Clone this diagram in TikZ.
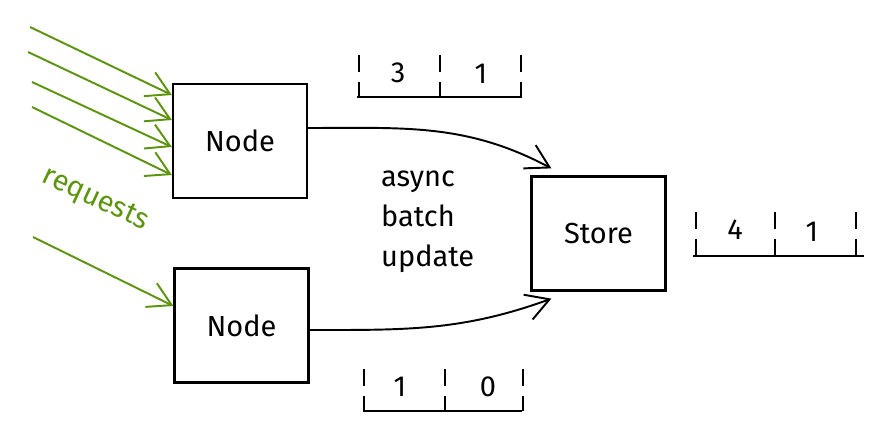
\documentclass[tikz,border=0pt]{standalone}
\usepackage{fontspec}
\setmainfont{Fira Sans}
\usetikzlibrary{arrows.meta}

\definecolor{reqgreen}{HTML}{5C940D}

\tikzset{
  box/.style={shape=rectangle,draw=black,line width=1.3pt,minimum width=2.68cm,minimum height=2.28cm},
  req/.style={draw=reqgreen,line width=1.1pt,-{Straight Barb[length=13pt,width=15pt]}},
  flow/.style={draw=black,line width=1.1pt,-{Straight Barb[length=13pt,width=15pt]}},
  tickmark/.style={draw=black,line width=1.2pt,dash pattern=on 0.34cm off 0.2cm on 1cm},
  rule/.style={draw=black,line width=1.4pt},
  count/.style={font=\fontsize{16.5}{19}\selectfont}
}

\begin{document}
\begin{tikzpicture}[x=0.02cm,y=-0.02cm,font=\fontsize{16.5}{19}\selectfont]
    \useasboundingbox (0,0) rectangle (884,438);

    \node[box] (top)    at (240,141)     {Node};
    \node[box] (bottom) at (241.5,325.5) {Node};
    \node[box] (store)  at (598.5,233.5) {Store};

    \node[align=left,anchor=west,font=\fontsize{16.5}{22.7}\selectfont] (label) at (375,222) {async\\batch\\update};
    \node[text=reqgreen,rotate=-25] (requests) at (95,200) {requests};

    % incoming requests
    \coordinate (r1) at (30,27);
    \coordinate (r2) at (28,52);
    \coordinate (r3) at (32,82);
    \coordinate (r4) at (32,107);
    \coordinate (r5) at (33,237);
    \draw[req] (r1) -- (top.west |- 0,95);
    \draw[req] (r2) -- (top.west |- 0,120);
    \draw[req] (r3) -- (top.west |- 0,147);
    \draw[req] (r4) -- (top.west |- 0,175);
    \draw[req] (r5) -- (bottom.west |- 0,306);

    % batch updates
    \draw[flow] (top.east |- 0,128) to[out=0,in=152] ([shift={(21,-7)}]store.north west);
    \draw[flow] (bottom.east |- 0,330) to[out=0,in=200] ([shift={(21,7)}]store.south west);

    % counters
    \foreach \x in {359,440,521} \draw[tickmark] (\x,55) -- (\x,97);
    \draw[rule] (357,97) -- (522,97);
    \node[count] (topa) at (398,73) {3};
    \node[count] (topb) at (481,74) {1};

    \foreach \x in {364,445,523} \draw[tickmark] (\x,369) -- (\x,411);
    \draw[rule] (363,411) -- (522,411);
    \node[count] (bota) at (400,387) {1};
    \node[count] (botb) at (488,387) {0};

    \foreach \x in {696,775,856} \draw[tickmark] (\x,212) -- (\x,256);
    \draw[rule] (693,256) -- (864,256);
    \node[count] (storea) at (735,230) {4};
    \node[count] (storeb) at (812,232) {1};

\end{tikzpicture}
\end{document}
